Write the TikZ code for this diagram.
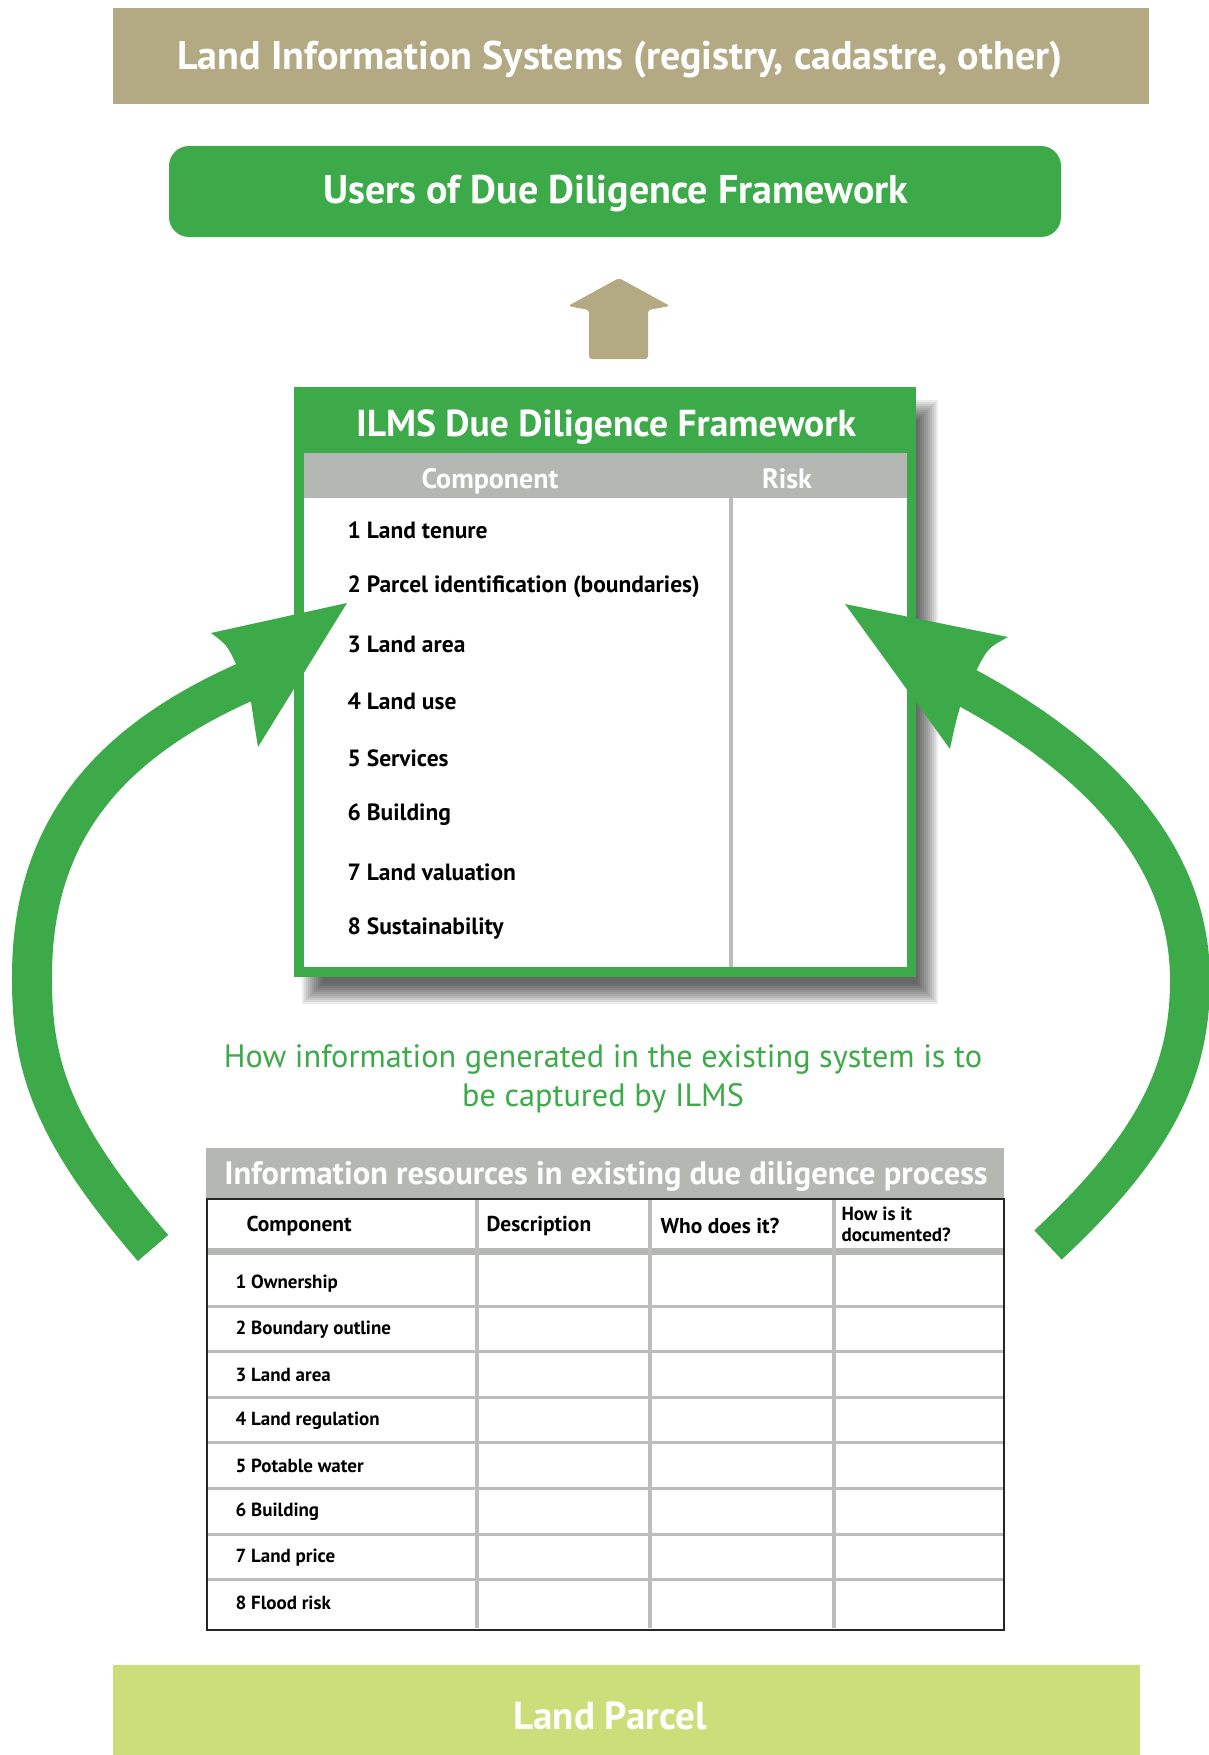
\documentclass[tikz,border=0pt]{standalone}
\usepackage{fontspec}
\setmainfont{PT Sans}
\usetikzlibrary{positioning}
\definecolor{landtan}{RGB}{179,169,131}
\definecolor{ilmsgreen}{RGB}{61,170,74}
\definecolor{headgray}{RGB}{181,183,178}
\definecolor{gridgray}{RGB}{188,188,188}
\definecolor{parcelgreen}{RGB}{204,222,122}

\tikzset{
    bigtext/.style={text=white, font=\bfseries\fontsize{40}{44}\selectfont},
    colhead/.style={text=white, font=\bfseries\fontsize{28}{30}\selectfont},
    itemtext/.style={anchor=west, font=\bfseries\fontsize{23.5}{26}\selectfont},
    tabhead/.style={anchor=west, align=left, font=\bfseries\fontsize{21.5}{23}\selectfont},
    tabrow/.style={anchor=west, font=\bfseries\fontsize{19}{22}\selectfont},
    loopshaft/.style={draw=ilmsgreen, line width=40pt},
}

\begin{document}
\begin{tikzpicture}[x=1pt, y=-1pt]
    \useasboundingbox (0,0) rectangle (1208,1755);

    \fill[landtan] (113,8) rectangle (1149,104);
    \node[bigtext] (lis) at (620,60) {Land Information Systems (registry, cadastre, other)};

    \fill[ilmsgreen, rounded corners=20] (169,146) rectangle (1061,237);
    \node[bigtext] (users) at (616,194) {Users of Due Diligence Framework};

    \fill[landtan, rounded corners=3] (619,278) -- (670,306) -- (648,310) -- (648,359)
        -- (589,359) -- (589,310) -- (568,306) -- cycle;

    % framework box with soft shadow
    \foreach \s in {0,2,...,20} {
        \fill[black, opacity=0.08] (302+\s,400+\s) rectangle (938-\s,1004-\s);
    }
    \fill[ilmsgreen] (294,387) rectangle (916,977);
    \fill[white] (304,453) rectangle (907,967);
    \fill[headgray] (304,453) rectangle (907,498);
    \draw[gridgray, line width=4pt] (731,498) -- (731,967);
    \node[bigtext, font=\bfseries\fontsize{37.5}{40}\selectfont] (ilms) at (606,427) {ILMS Due Diligence Framework};
    \node[colhead] (comphead) at (490,481) {Component};
    \node[colhead] (riskhead) at (787,479) {Risk};
    \foreach \t [count=\i] in {Land tenure, Parcel identification (boundaries), Land area,
        Land use, Services, Building, Land valuation, Sustainability} {
        \node[itemtext] (item\i) at (344,473+57*\i) {\i\ \t};
    }

    \node[text=ilmsgreen, align=center, font=\fontsize{32.3}{39}\selectfont] (how) at (603,1079)
        {How information generated in the existing system is to\\be captured by ILMS};

    % table of existing resources
    \fill[headgray] (206,1148) rectangle (1004,1199);
    \node[bigtext, font=\bfseries\fontsize{32.5}{36}\selectfont] (restitle) at (606,1176)
        {Information resources in existing due diligence process};
    \fill[headgray] (207,1248) rectangle (1004,1255);
    \foreach \y in {1306,1351.6,1397.2,1442.8,1488.4,1534,1579.6} {
        \draw[gridgray, line width=3pt] (207,\y) -- (1004,\y);
    }
    \foreach \x in {477,650,834} {
        \draw[gridgray, line width=4pt] (\x,1199) -- (\x,1628);
    }
    \draw[black!85, line width=2.5pt] (207,1199) rectangle (1004,1630);
    \node[tabhead] (thcomp) at (243,1226) {Component};
    \node[tabhead] (thdesc) at (483,1226) {Description};
    \node[tabhead] (thwho) at (657,1226) {Who does it?};
    \node[tabhead, font=\bfseries\fontsize{19}{21}\selectfont] (thhow) at (838,1224) {How is it\\documented?};
    \foreach \t [count=\i] in {Ownership, Boundary outline, Land area, Land regulation,
        Potable water, Building, Land price, Flood risk} {
        \node[tabrow] (row\i) at (232,1238+45.6*\i) {\i\ \t};
    }

    \fill[parcelgreen] (113,1665) rectangle (1140,1755);
    \node[bigtext, font=\bfseries\fontsize{39}{42}\selectfont] (parcel) at (610,1716) {Land Parcel};

    % feedback loops
    \coordinate (ltail) at (153,1248);
    \coordinate (lbase) at (252,679);
    \draw[loopshaft] (ltail) .. controls (55,1134) and (32,1070) .. (32,980)
        .. controls (31,835) and (104,743) .. (lbase);
    \fill[ilmsgreen] (347,603) -- (211,633) .. controls (227,645) .. (236,664) -- (251,702)
        .. controls (254,722) .. (258,747) -- cycle;

    \coordinate (rtail) at (1048,1245);
    \coordinate (rbase) at (962,685);
    \draw[loopshaft] (rtail) .. controls (1157,1143) and (1190,1070) .. (1190,980)
        .. controls (1190,850) and (1091,754) .. (rbase);
    \fill[ilmsgreen] (845,604) -- (1008,637) .. controls (988,648) .. (977,669) -- (960,707)
        .. controls (955,725) .. (950,749) -- cycle;
\end{tikzpicture}
\end{document}
